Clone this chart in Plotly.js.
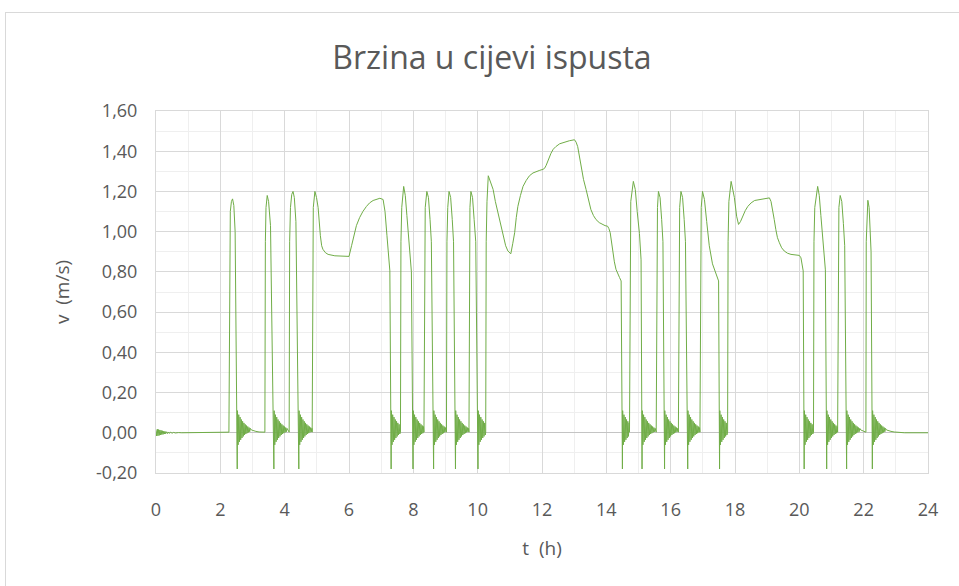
<!DOCTYPE html>
<html>
<head>
<meta charset="utf-8">
<script src="https://cdn.plot.ly/plotly-3.0.1.min.js"></script>
<style>
  html, body { margin: 0; padding: 0; background: #ffffff; overflow: hidden; }
  #frame { position: absolute; left: 5px; top: 12px; width: 1000px; height: 640px; border: 1px solid #d9d9d9; box-sizing: border-box; }
  #chart { position: absolute; left: 0; top: 0; width: 959px; height: 586px; }
</style>
</head>
<body>
<div id="frame"></div>
<div id="chart"></div>
<script>
// ---- Data ----
const chartTitle = 'Brzina u cijevi ispusta';
const xTitle = 't  (h)';
const yTitle = 'v  (m/s)';

const xTickVals = [0, 2, 4, 6, 8, 10, 12, 14, 16, 18, 20, 22, 24];
const xTickText = ['0', '2', '4', '6', '8', '10', '12', '14', '16', '18', '20', '22', '24'];
const yTickVals = [-0.2, 0, 0.2, 0.4, 0.6, 0.8, 1.0, 1.2, 1.4, 1.6];
const yTickText = ['-0,20', '0,00', '0,20', '0,40', '0,60', '0,80', '1,00', '1,20', '1,40', '1,60'];

// smooth parts and pulse shapes: time (h)
const keyTimes = [
  0, 0.02, 0.04, 0.06, 0.08, 0.10, 0.12, 0.14, 0.16, 0.18, 0.20, 0.22, 0.24, 0.26, 0.28, 0.30, 0.33, 0.36, 0.39, 0.42, 0.45, 0.50, 0.55, 0.60, 0.70, 0.80,
  2.267, 2.285, 2.31, 2.345, 2.38, 2.42, 2.46,
  3.385, 3.40, 3.42, 3.458, 3.50, 3.56,
  4.14, 4.155, 4.18, 4.22, 4.26, 4.30, 4.35,
  4.855, 4.87, 4.89, 4.94, 4.99, 5.04, 5.08, 5.11, 5.15, 5.19, 5.27, 5.35, 5.56, 5.80, 6.00, 6.08, 6.13, 6.23, 6.33, 6.43, 6.54, 6.64, 6.75, 6.85, 6.96, 7.06, 7.12, 7.18, 7.22, 7.27,
  7.60, 7.615, 7.64, 7.70, 7.75, 7.80, 7.86, 7.91, 7.94,
  8.33, 8.345, 8.37, 8.42, 8.47, 8.52, 8.56,
  9.03, 9.045, 9.07, 9.11, 9.16, 9.21, 9.25,
  9.73, 9.745, 9.76, 9.79, 9.84, 9.89, 9.94,
  10.25, 10.265, 10.29, 10.33, 10.40, 10.48, 10.55, 10.63, 10.71, 10.79, 10.87, 10.94, 11.03, 11.09, 11.15, 11.20, 11.25, 11.33, 11.41, 11.51, 11.61, 11.72, 11.82, 11.93, 12.03, 12.08, 12.13, 12.20, 12.28, 12.35, 12.43, 12.55, 12.70, 12.85, 13.01, 13.06, 13.11, 13.16, 13.21, 13.29, 13.37, 13.45, 13.52, 13.60, 13.68, 13.78, 13.88, 13.96, 14.04, 14.08, 14.12, 14.16, 14.20, 14.25, 14.30, 14.36, 14.41, 14.46,
  14.72, 14.735, 14.76, 14.84, 14.90, 14.96, 15.03, 15.08,
  15.55, 15.565, 15.59, 15.62, 15.67, 15.72, 15.76,
  16.24, 16.255, 16.28, 16.32, 16.37, 16.42, 16.46,
  16.91, 16.925, 16.95, 16.99, 17.05, 17.12, 17.20, 17.30, 17.40, 17.49,
  17.77, 17.785, 17.81, 17.88, 17.94, 17.98, 18.05, 18.11, 18.17, 18.24, 18.32, 18.40, 18.50, 18.61, 18.76, 18.92, 19.07, 19.12, 19.17, 19.22, 19.27, 19.32, 19.38, 19.45, 19.53, 19.63, 19.74, 19.87, 20.00, 20.05, 20.08, 20.12,
  20.44, 20.455, 20.48, 20.57, 20.62, 20.67, 20.73, 20.78, 20.81,
  21.19, 21.205, 21.23, 21.27, 21.32, 21.37, 21.41,
  22.07, 22.08, 22.10, 22.13, 22.17, 22.20, 22.23,
  24.0
];
// velocity (m/s) at keyTimes
const keyValues = [
  0.012, -0.016, 0.018, -0.015, 0.016, -0.013, 0.014, -0.011, 0.012, -0.009, 0.010, -0.008, 0.008, -0.006, 0.007, -0.005, 0.005, -0.004, 0.004, -0.003, 0.003, -0.002, 0.002, -0.001, 0.001, 0,
  0.003, 0.95, 1.10, 1.15, 1.163, 1.13, 1.00,
  0.003, 0.95, 1.12, 1.18, 1.15, 1.03,
  0.003, 0.95, 1.12, 1.185, 1.20, 1.17, 1.05,
  0.003, 0.95, 1.12, 1.20, 1.17, 1.12, 1.03, 0.98, 0.93, 0.912, 0.895, 0.887, 0.88, 0.879, 0.877, 0.93, 0.96, 1.03, 1.07, 1.10, 1.125, 1.143, 1.155, 1.16, 1.166, 1.16, 1.10, 0.98, 0.88, 0.805,
  0.003, 0.95, 1.12, 1.225, 1.18, 1.08, 0.96, 0.86, 0.80,
  0.003, 0.95, 1.12, 1.20, 1.17, 1.06, 0.95,
  0.003, 0.95, 1.12, 1.20, 1.17, 1.06, 0.95,
  0.003, 0.95, 1.12, 1.20, 1.17, 1.06, 0.95,
  0.003, 0.95, 1.15, 1.278, 1.25, 1.21, 1.15, 1.094, 1.04, 0.98, 0.93, 0.904, 0.89, 0.94, 0.995, 1.07, 1.126, 1.18, 1.225, 1.255, 1.278, 1.292, 1.30, 1.305, 1.31, 1.315, 1.33, 1.36, 1.39, 1.41, 1.423, 1.437, 1.445, 1.452, 1.457, 1.445, 1.423, 1.38, 1.325, 1.26, 1.21, 1.155, 1.11, 1.08, 1.06, 1.045, 1.036, 1.03, 1.027, 1.015, 0.995, 0.945, 0.896, 0.85, 0.813, 0.785, 0.772, 0.755,
  0.003, 0.95, 1.15, 1.25, 1.21, 1.10, 0.99, 0.86,
  0.003, 0.95, 1.12, 1.20, 1.17, 1.06, 0.95,
  0.003, 0.95, 1.12, 1.20, 1.17, 1.06, 0.95,
  0.003, 0.95, 1.12, 1.20, 1.16, 1.05, 0.93, 0.84, 0.79, 0.755,
  0.003, 0.95, 1.15, 1.25, 1.21, 1.17, 1.077, 1.036, 1.05, 1.077, 1.105, 1.126, 1.143, 1.155, 1.16, 1.165, 1.168, 1.15, 1.11, 1.06, 1.01, 0.97, 0.945, 0.92, 0.904, 0.893, 0.887, 0.884, 0.882, 0.87, 0.846, 0.805,
  0.003, 0.95, 1.12, 1.225, 1.18, 1.08, 0.96, 0.86, 0.81,
  0.003, 0.95, 1.12, 1.18, 1.15, 1.04, 0.93,
  0.003, 0.95, 1.10, 1.156, 1.12, 1.02, 0.90,
  0
];

// moments when the valve closes and the velocity drops (h)
const dropTimes = [2.525, 3.665, 4.44, 7.31, 7.99, 8.63, 9.31, 10.01, 14.50, 15.11, 15.81, 16.53, 17.52, 20.15, 20.85, 21.47, 22.27];

// damped ringing seen after every drop: time after the drop (h) and velocity (m/s)
const ringOffsets = [0, 0.008, 0.028, 0.048, 0.068, 0.088, 0.108, 0.128, 0.148, 0.168, 0.188, 0.208, 0.228, 0.248, 0.268, 0.288, 0.308, 0.328, 0.348, 0.368, 0.388, 0.408, 0.44, 0.50, 0.58, 0.68, 0.82, 1.00];
const ringValues = [-0.18, 0.11, -0.06, 0.09, -0.045, 0.078, -0.035, 0.066, -0.026, 0.057, -0.018, 0.049, -0.011, 0.042, -0.006, 0.036, -0.002, 0.031, 0.002, 0.026, 0.005, 0.022, 0.014, 0.010, 0.007, 0.004, 0.002, 0.0];

// ---- assemble the single series ----
const pts = [];
for (let i = 0; i < keyTimes.length; i++) pts.push([keyTimes[i], keyValues[i]]);
dropTimes.forEach(function (td) {
  let next = Infinity;
  keyTimes.forEach(function (k) { if (k > td && k < next) next = k; });
  for (let j = 0; j < ringOffsets.length; j++) {
    const t = td + ringOffsets[j];
    if (t < next - 0.003) pts.push([t, ringValues[j]]);
  }
});
pts.sort(function (a, b) { return a[0] - b[0]; });
const xs = pts.map(function (p) { return p[0]; });
const ys = pts.map(function (p) { return p[1]; });

const fontFam = '"Open Sans", "DejaVu Sans", sans-serif';
const textCol = '#595959';

const trace = {
  x: xs, y: ys, type: 'scatter', mode: 'lines',
  line: { color: '#70AD47', width: 1 },
  hoverinfo: 'skip', showlegend: false
};

const layout = {
  width: 959, height: 586,
  paper_bgcolor: 'rgba(0,0,0,0)', plot_bgcolor: '#ffffff',
  margin: { l: 156, r: 31, t: 111, b: 113, pad: 0 },
  title: {
    text: chartTitle,
    font: { family: fontFam, size: 32, color: textCol },
    x: 0.513, xref: 'container', xanchor: 'center',
    y: 0.901, yref: 'container', yanchor: 'middle'
  },
  xaxis: {
    range: [0, 24], tickmode: 'array', tickvals: xTickVals, ticktext: xTickText,
    showgrid: true, gridcolor: '#d9d9d9', gridwidth: 1,
    minor: { tickmode: 'linear', tick0: 0, dtick: 1, showgrid: true, gridcolor: '#efefef', gridwidth: 1 },
    zeroline: false, showline: true, mirror: true, linecolor: '#d9d9d9', linewidth: 1,
    ticks: '', ticklabelstandoff: 20,
    tickfont: { family: fontFam, size: 18, color: textCol },
    title: { text: xTitle, font: { family: fontFam, size: 19, color: textCol }, standoff: 22 },
    fixedrange: true
  },
  yaxis: {
    range: [-0.2, 1.6], tickmode: 'array', tickvals: yTickVals, ticktext: yTickText,
    showgrid: true, gridcolor: '#d9d9d9', gridwidth: 1,
    minor: { tickmode: 'linear', tick0: 0, dtick: 0.1, showgrid: true, gridcolor: '#efefef', gridwidth: 1 },
    zeroline: true, zerolinecolor: '#c4c4c4', zerolinewidth: 1,
    showline: true, mirror: true, linecolor: '#d9d9d9', linewidth: 1,
    ticks: '', ticklabelstandoff: 14,
    tickfont: { family: fontFam, size: 18, color: textCol },
    title: { text: yTitle, font: { family: fontFam, size: 19, color: textCol }, standoff: 21 },
    fixedrange: true
  }
};

Plotly.newPlot('chart', [trace], layout, { displayModeBar: false, staticPlot: true });
</script>
</body>
</html>
